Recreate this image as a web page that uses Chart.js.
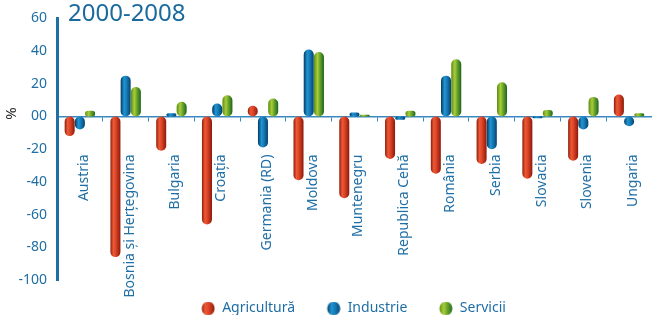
<!DOCTYPE html>
<html>
<head>
<meta charset="utf-8">
<script src="https://cdn.jsdelivr.net/npm/chart.js@4.4.1/dist/chart.umd.min.js"></script>
<style>
html,body{margin:0;padding:0;background:#fff;}
#wrap{position:relative;width:652px;height:315px;}
</style>
</head>
<body>
<div id="wrap"><canvas id="c" width="652" height="315"></canvas></div>
<script>
const categories = ['Austria','Bosnia și Herțegovina','Bulgaria','Croația','Germania (RD)','Moldova','Muntenegru','Republica Cehă','România','Serbia','Slovacia','Slovenia','Ungaria'];
const agricultura = [-12, -86, -21, -66, 6.5, -39, -50, -26, -35, -29, -38, -27, 13.5];
const industrie   = [-8, 25, 2, 8, -19, 41, 2.5, -2, 25, -20, -1, -8, -6];
const servicii    = [3.5, 18, 9, 13, 11, 39.5, 1, 3.5, 35, 21, 4, 12, 2];
const yTickLabels = {60:'60', 40:'40', 20:'20', 0:'00', '-20':'-20', '-40':'-40', '-60':'-60', '-80':'-80', '-100':'-100'};
const seriesNames = ['Agricultură','Industrie','Servicii'];
const titleText = '2000-2008';
const yAxisTitle = '%';

const BLUE = '#1f6ea6';
const FONT = "'Noto Sans', sans-serif";

const gradStops = [
  [[0,'#8f1c0c'],[0.3,'#ec5a35'],[0.55,'#dc4326'],[1,'#8a190b']],
  [[0,'#05385f'],[0.35,'#1f95d2'],[0.6,'#157ab8'],[1,'#05416b']],
  [[0,'#5a8c12'],[0.35,'#a8cd3c'],[0.6,'#6ca42a'],[1,'#1b651d']]
];
const flatColors = ['#d8452a','#1a7fbf','#6ea62a'];

const ICON_W = 24, ICON_H = 14;
function legendIcon(i){
  const cv = document.createElement('canvas');
  cv.width = ICON_W; cv.height = ICON_H;
  const g = cv.getContext('2d');
  const cx = ICON_W - 7, cy = 7;
  const gr = g.createLinearGradient(cx - 7, 0, cx + 7, 0);
  gradStops[i].forEach(st => gr.addColorStop(st[0], st[1]));
  g.fillStyle = gr;
  g.beginPath(); g.ellipse(cx, cy, 6.5, 7, 0, 0, Math.PI*2); g.fill();
  return cv;
}
const icons = [0,1,2].map(legendIcon);

const LEGEND_SHIFT = -6;
const gradientPlugin = {
  id: 'cylGradient',
  afterLayout(chart){
    if (chart.legend) { chart.legend.left += LEGEND_SHIFT; chart.legend.right += LEGEND_SHIFT; }
  },
  beforeDatasetsDraw(chart){
    const ctx = chart.ctx;
    chart.data.datasets.forEach((ds, di) => {
      const meta = chart.getDatasetMeta(di);
      meta.data.forEach(el => {
        const w = el.width;
        const gr = ctx.createLinearGradient(el.x - w/2, 0, el.x + w/2, 0);
        gradStops[di].forEach(st => gr.addColorStop(st[0], st[1]));
        el.options.backgroundColor = gr;
      });
    });
  }
};

const titlePlugin = {
  id: 'cornerTitle',
  afterDraw(chart){
    const ctx = chart.ctx;
    ctx.save();
    ctx.font = "24px " + FONT;
    ctx.fillStyle = '#1a6a9e';
    ctx.textBaseline = 'alphabetic';
    ctx.textAlign = 'left';
    ctx.fillText(titleText, 68, 21);
    ctx.restore();
    const y0 = chart.scales.y.getPixelForValue(0);
    ctx.save();
    ctx.translate(12, y0 - 3);
    ctx.rotate(-Math.PI/2);
    ctx.font = "15px " + FONT;
    ctx.fillStyle = '#2a2a2a';
    ctx.textAlign = 'center';
    ctx.textBaseline = 'middle';
    ctx.fillText(yAxisTitle, 0, 0);
    ctx.restore();
  }
};

const mk = (label, data, i) => ({
  label, data,
  backgroundColor: (c) => flatColors[c.datasetIndex],
  borderWidth: 0,
  borderRadius: 6,
  borderSkipped: false,
  barPercentage: 0.98,
  categoryPercentage: 0.67,
  pointStyle: icons[i]
});

new Chart(document.getElementById('c'), {
  type: 'bar',
  data: {
    labels: categories,
    datasets: [
      mk(seriesNames[0], agricultura, 0),
      mk(seriesNames[1], industrie, 1),
      mk(seriesNames[2], servicii, 2)
    ]
  },
  plugins: [gradientPlugin, titlePlugin],
  options: {
    responsive: false,
    animation: false,
    devicePixelRatio: 1,
    layout: { padding: { top: 8, right: 0, bottom: -10.5, left: 0 } },
    plugins: {
      legend: {
        position: 'bottom',
        fullSize: false,
        labels: {
          usePointStyle: true,
          pointStyleWidth: ICON_W,
          color: BLUE,
          font: { family: FONT, size: 14 },
          padding: 21.5,
          boxHeight: 14
        }
      },
      tooltip: { enabled: false }
    },
    scales: {
      x: {
        position: { y: 0 },
        offset: true,
        afterFit: (s) => { s.paddingLeft = 0; s.paddingRight = 0; },
        border: { display: true, color: '#3a88c0', width: 1.5 },
        grid: { display: true, drawOnChartArea: false, drawTicks: true, tickLength: 4, color: '#3a88c0', offset: true },
        ticks: {
          autoSkip: false, minRotation: 90, maxRotation: 90,
          color: BLUE, font: { family: FONT, size: 14 },
          padding: 34, labelOffset: 4
        }
      },
      y: {
        min: -100, max: 60,
        afterFit: (s) => { s.width = 57; },
        border: { display: true, color: '#1f6ea6', width: 3 },
        grid: { display: false, drawTicks: false },
        ticks: {
          stepSize: 20,
          color: BLUE, font: { family: FONT, size: 14 },
          padding: 10,
          callback: (v) => yTickLabels[v] !== undefined ? yTickLabels[v] : ''
        }
      }
    }
  }
});
</script>
</body>
</html>
